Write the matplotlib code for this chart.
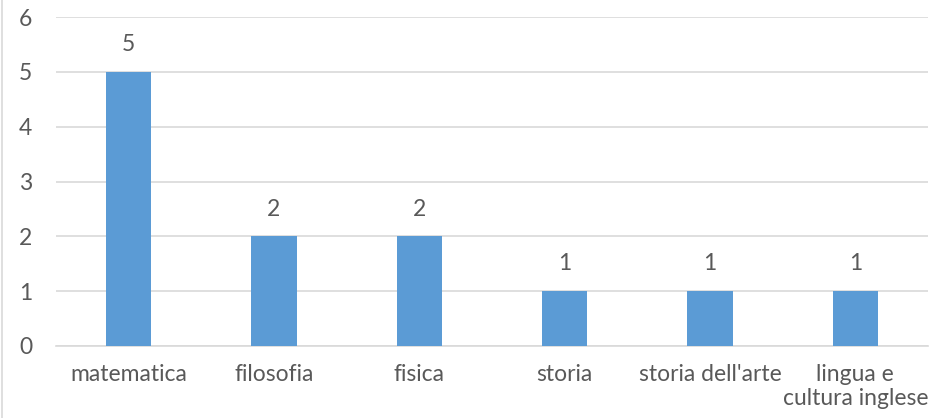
import matplotlib.pyplot as plt
from matplotlib.lines import Line2D

materie = ["matematica", "filosofia", "fisica", "storia", "storia dell'arte", "lingua e\ncultura inglese"]
valori = [5, 2, 2, 1, 1, 1]
yticks = [0, 1, 2, 3, 4, 5, 6]

blu = "#5B9BD5"
grigio_testo = "#595959"
grigio_linee = "#D9D9D9"

plt.rcParams["font.family"] = ["Lato", "DejaVu Sans"]
fs = 16.5

fig = plt.figure(figsize=(9.42, 4.18), dpi=100)
ax = fig.add_axes([56 / 942, 1 - 346 / 418, (928 - 56) / 942, (346 - 17) / 418])

x = range(len(materie))
bars = ax.bar(x, valori, width=0.31, color=blu, zorder=3)

for xi, v in zip(x, valori):
    ax.annotate(str(v), xy=(xi, v), xytext=(0, 12), textcoords="offset points",
                ha="center", va="bottom", fontsize=fs, color=grigio_testo)

ax.set_xlim(-0.5, len(materie) - 0.5)
ax.set_ylim(0, 6)
ax.set_yticks(yticks)
ax.set_xticks(list(x))
ax.set_xticklabels(materie, linespacing=1.2)
ax.tick_params(axis="y", length=0, pad=17, labelsize=fs, labelcolor=grigio_testo)
ax.tick_params(axis="x", length=0, pad=13, labelsize=fs, labelcolor=grigio_testo)
ax.grid(axis="y", color=grigio_linee, linewidth=1.2, zorder=0)
for s in ["top", "right", "left"]:
    ax.spines[s].set_visible(False)
ax.spines["bottom"].set_color(grigio_linee)
ax.spines["bottom"].set_linewidth(1.2)

# bordo sinistro del grafico
fig.add_artist(Line2D([2 / 942, 2 / 942], [0, 1], color=grigio_linee, linewidth=1.2))

fig.savefig("out.png", dpi=100)
